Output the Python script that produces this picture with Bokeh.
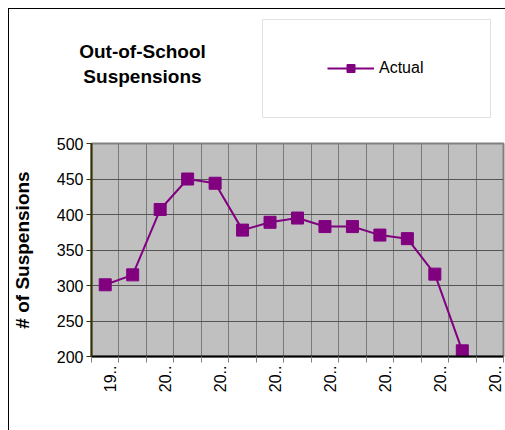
import math
from bokeh.plotting import figure
from bokeh.layouts import column
from bokeh.models import (FixedTicker, Legend, LegendItem, Label, BoxAnnotation,
                          Range1d, ColumnDataSource)
from bokeh.embed import file_html
from bokeh.resources import INLINE

# ---- data ----
category_labels = ["19..", "20..", "20..", "20..", "20..", "20..", "20..", "20..",
                   "20..", "20..", "20..", "20..", "20..", "20..", "20.."]
actual = [301, 315, 407, 450, 444, 378, 389, 395, 383, 383, 371, 366, 316, 208]
y_ticks = [200, 250, 300, 350, 400, 450, 500]
title_text = "Out-of-School\nSuspensions"
y_title = "# of Suspensions"
series_name = "Actual"

FONT = "Liberation Sans"
PURPLE = "#800080"

n_cat = len(category_labels)
xs = [i + 0.5 for i in range(len(actual))]
src = ColumnDataSource(data=dict(x=xs, y=actual))

# ---------------- header (title + legend) ----------------
W = 505
TOP_H = 122
head = figure(width=W, height=TOP_H, output_backend="svg", toolbar_location=None,
              x_range=Range1d(0, W), y_range=Range1d(TOP_H, 0),
              min_border=0, x_axis_type=None, y_axis_type=None)
head.frame_align = False
head.outline_line_color = None
head.grid.visible = False
head.background_fill_alpha = 0.0
head.border_fill_alpha = 0.0

# series drawn in the header only as legend sources (their data lie outside its view)
h_ln = head.line("x", "y", source=src, line_color=PURPLE, line_width=2)
h_sc = head.scatter("x", "y", source=src, marker="square", size=10,
                    fill_color=PURPLE, line_color=PURPLE)

box = BoxAnnotation(left=262, right=490, top=19, bottom=117,
                    fill_color="white", fill_alpha=1.0,
                    line_color="#A0A0A0", line_width=1)
head.add_layout(box)

legend = Legend(items=[LegendItem(label=series_name, renderers=[h_ln, h_sc])],
                location=(327, 44), orientation="vertical",
                glyph_width=47, glyph_height=20, label_standoff=5,
                padding=5, spacing=0, margin=0,
                label_text_font=FONT, label_text_font_size="16px",
                label_text_color="#000000",
                border_line_color=None, background_fill_alpha=0.0)
head.add_layout(legend, "center")

title = Label(x=142, y=40, text=title_text,
              text_align="center", text_baseline="top", text_font=FONT,
              text_font_size="19px", text_font_style="bold", text_color="#000000",
              text_line_height=1.2)
head.add_layout(title)

# ---------------- chart ----------------
p = figure(width=W, height=430 - TOP_H, output_backend="svg", toolbar_location=None,
           x_range=Range1d(0, n_cat), y_range=Range1d(200, 500),
           min_border_left=91, min_border_right=2, min_border_top=21,
           min_border_bottom=74)
p.frame_align = False

p.background_fill_color = "#C0C0C0"
p.border_fill_alpha = 0.0
p.outline_line_color = "#808080"
p.outline_line_width = 2

label_pos = [i + 0.68 for i in range(0, n_cat, 2)]
p.xaxis.ticker = FixedTicker(ticks=label_pos, minor_ticks=list(range(0, n_cat + 1)))
p.xaxis.major_label_overrides = {i + 0.68: category_labels[i] for i in range(0, n_cat, 2)}
p.xaxis.major_label_orientation = math.pi / 2
p.xaxis.major_tick_line_color = None
p.xaxis.major_tick_out = 0
p.xaxis.major_tick_in = 0
p.xaxis.minor_tick_line_color = "#808080"
p.xaxis.minor_tick_out = 6
p.xaxis.minor_tick_in = 0
p.xaxis.axis_line_color = "#000000"
p.xaxis.axis_line_width = 2
p.xaxis.major_label_text_font = FONT
p.xaxis.major_label_text_font_size = "16px"
p.xaxis.major_label_text_color = "#000000"
p.xaxis.major_label_standoff = 3

p.xgrid.grid_line_color = None
p.xgrid.minor_grid_line_color = "#7a7a7a"
p.xgrid.minor_grid_line_width = 1

p.yaxis.ticker = FixedTicker(ticks=y_ticks)
p.yaxis.axis_line_color = "#333300"
p.yaxis.axis_line_width = 2
p.yaxis.major_tick_line_color = "#333300"
p.yaxis.major_tick_out = 5
p.yaxis.major_tick_in = 0
p.yaxis.minor_tick_line_color = None
p.yaxis.major_label_text_font = FONT
p.yaxis.major_label_text_font_size = "16px"
p.yaxis.major_label_text_color = "#000000"
p.yaxis.major_label_standoff = 3
p.yaxis.axis_label = y_title
p.yaxis.axis_label_text_font = FONT
p.yaxis.axis_label_text_font_size = "19px"
p.yaxis.axis_label_text_font_style = "bold"
p.yaxis.axis_label_text_color = "#000000"
p.yaxis.axis_label_standoff = 21

p.ygrid.grid_line_color = "#555555"
p.ygrid.grid_line_width = 1

p.line("x", "y", source=src, line_color=PURPLE, line_width=2)
p.scatter("x", "y", source=src, marker="square", size=12,
          fill_color=PURPLE, line_color=PURPLE)

frame_lines = ("linear-gradient(#000000, #000000) 8px 8px / 1px calc(100% - 8px) no-repeat, "
               "linear-gradient(#000000, #000000) 8px 8px / calc(100% - 8px) 1px no-repeat, "
               "#ffffff")
layout = column(head, p, spacing=0, styles={"background": frame_lines})

open("out.html", "w").write(file_html(layout, INLINE))
